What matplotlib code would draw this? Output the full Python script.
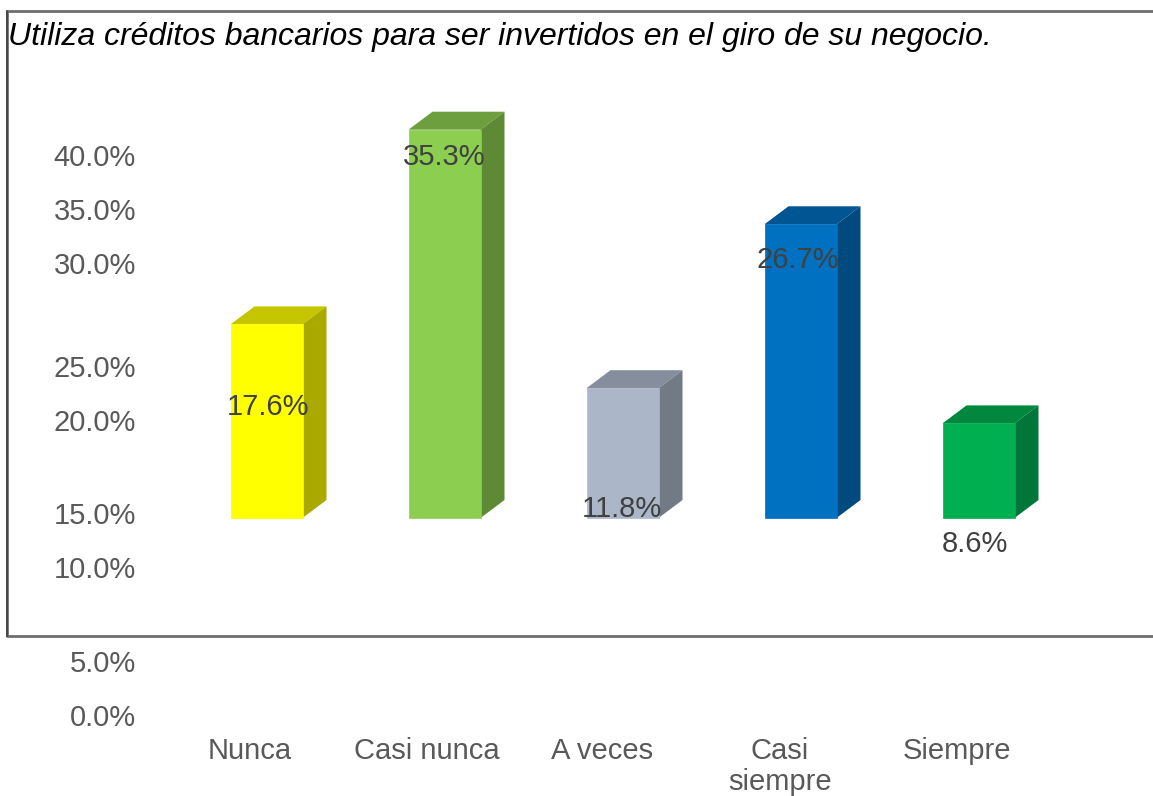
import matplotlib
matplotlib.use("Agg")
import matplotlib.pyplot as plt

categories = ["Nunca", "Casi nunca", "A veces", "Casi\nsiempre", "Siempre"]
values = [17.6, 35.3, 11.8, 26.7, 8.6]
value_labels = ["17.6%", "35.3%", "11.8%", "26.7%", "8.6%"]
tick_labels = ["0.0%", "5.0%", "10.0%", "15.0%", "20.0%", "25.0%", "30.0%", "35.0%", "40.0%"]
title = "Utiliza créditos bancarios para ser invertidos en el giro de su negocio."

# front, top, side colours of each bar
front_colors = ["#FFFF00", "#8CCF50", "#ABB7C9", "#0070C0", "#00B050"]
top_colors = ["#C6C600", "#6D9F3E", "#858E9C", "#005592", "#00893E"]
side_colors = ["#A9A900", "#5F8A35", "#717A85", "#004A80", "#00763A"]

# the picture's labels do not sit on a regular scale, so pixel rows are kept here
tick_rows = [718, 664, 570, 516, 423, 369, 266, 212, 158]
label_rows = [407, 157, 509, 260, 544]
label_cols = [268, 444, 622, 798, 975]
cat_cols = [250, 427, 602, 780, 957]

W, H = 1153, 796
base_px = 518
px_per_pct = 11.0
first_px = 266.5
step_px = 178

fig = plt.figure(figsize=(W / 100, H / 100), dpi=100)
ax = fig.add_axes([0, 0, 1, 1])
ax.set_xlim(-first_px / step_px, (W - first_px) / step_px)
ax.set_ylim(-(H - base_px) / px_per_pct, base_px / px_per_pct)
ax.axis("off")

plt.rcParams["font.family"] = ["Liberation Sans", "DejaVu Sans"]

bar_w = 72 / step_px
dx = 24 / step_px
dy = 18 / px_per_pct

for i, v in enumerate(values):
    l = i - bar_w / 2
    r = i + bar_w / 2
    ax.bar(i, v, width=bar_w, color=front_colors[i], edgecolor=front_colors[i], linewidth=0.5, zorder=3)
    ax.fill([l, l + dx, r + dx, r], [v, v + dy, v + dy, v], color=top_colors[i], lw=0, zorder=2)
    ax.fill([r, r + dx, r + dx, r], [0, dy, v + dy, v], color=side_colors[i], lw=0, zorder=2)


def px_text(x, y, s, **kw):
    ax.text(x / W, 1 - y / H, s, transform=ax.transAxes, **kw)


for y, s in zip(tick_rows, tick_labels):
    px_text(136, y, s, ha="right", va="center", fontsize=21, color="#595959", zorder=5)

for x, y, s in zip(label_cols, label_rows, value_labels):
    px_text(x, y, s, ha="center", va="center", fontsize=21, color="#404040", zorder=5)

for x, s in zip(cat_cols, categories):
    px_text(x, 737, s, ha="center", va="top", fontsize=21, color="#595959", zorder=5, linespacing=1.12)

# frame round the upper part of the picture
ax.plot([1, 7 / W, 7 / W, 1], [1 - 11 / H, 1 - 11 / H, 1 - 636 / H, 1 - 636 / H],
        transform=ax.transAxes, color="#6E6E6E", lw=2, zorder=1)
ax.plot([7 / W, 7 / W], [1 - 11 / H, 1 - 636 / H], transform=ax.transAxes, color="#404040", lw=1.2, zorder=1)

px_text(8, 37, title, ha="left", va="center", fontsize=23.05, style="italic", color="black", zorder=5)

fig.savefig("out.png", dpi=100)
